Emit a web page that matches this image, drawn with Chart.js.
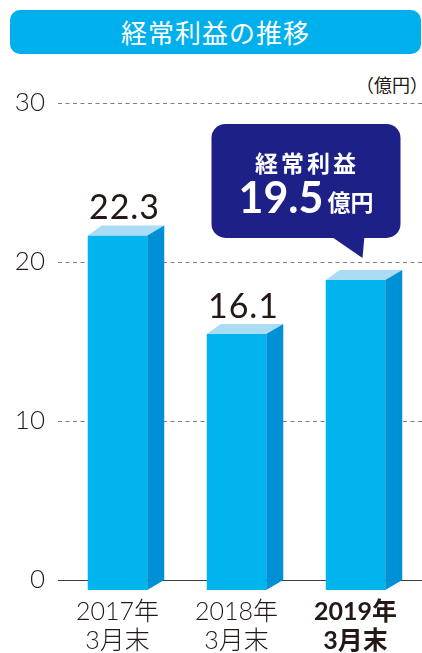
<!DOCTYPE html>
<html>
<head>
<meta charset="utf-8">
<script src="https://cdn.jsdelivr.net/npm/chart.js@4.4.1/dist/chart.umd.min.js"></script>
<style>
  html, body { margin: 0; padding: 0; background: #fff; }
  body { width: 422px; height: 653px; position: relative; overflow: hidden;
         font-family: 'Noto Sans CJK JP', sans-serif; color: #231815; }
  #title { position: absolute; left: 10px; top: 10px; width: 411px; height: 44px;
           background: #00b0ec; border-radius: 10px; color: #fff; font-size: 26px;
           line-height: 44px; text-align: center; letter-spacing: 1px; }
  #unit { position: absolute; right: -6px; top: 71px; font-size: 18px; }
  #wrap { position: absolute; left: 0; top: 0; width: 422px; height: 653px; }
</style>
</head>
<body>
<div id="title">経常利益の推移</div>
<div id="unit">（億円）</div>
<div id="wrap"><canvas id="profitChart"></canvas></div>
<script>
// values (億円)
const categories = [['2017年', '3月末'], ['2018年', '3月末'], ['2019年', '3月末']];
const profits = [22.3, 16.1, 19.5];
const valueLabels = ['22.3', '16.1', ''];
const yTicks = [0, 10, 20, 30];
const calloutIndex = 2;
const calloutTitle = '経常利益';
const calloutValue = '19.5';
const calloutUnit = '億円';

const FRONT = '#00b5ee', TOP = '#abdcf6', SIDE = '#0090d6', NAVY = '#1d2087', INK = '#231815';

// gridlines + fake 3D bars + callout, all positioned from the chart's scales
const bars3d = {
    id: 'bars3d',
    beforeDatasetsDraw(chart) {
        const { ctx, chartArea, scales: { y } } = chart;
        ctx.save();
        yTicks.forEach(v => {
            const py = Math.round(y.getPixelForValue(v)) + 0.5;
            ctx.beginPath();
            if (v === 0) {
                ctx.setLineDash([]);
                ctx.strokeStyle = '#3e3a39';
                ctx.lineWidth = 1.2;
            } else {
                ctx.setLineDash([4, 3.5]);
                ctx.strokeStyle = '#808080';
                ctx.lineWidth = 1;
            }
            ctx.moveTo(chartArea.left, py);
            ctx.lineTo(chart.width, py);
            ctx.stroke();
        });
        ctx.restore();
    },
    afterDatasetsDraw(chart) {
        const { ctx } = chart;
        const meta = chart.getDatasetMeta(0);
        ctx.save();
        meta.data.forEach((bar, i) => {
            const { x, y, base, width } = bar.getProps(['x', 'y', 'base', 'width'], true);
            const l = x - width / 2, r = x + width / 2, dy = 10;
            // front face
            ctx.fillStyle = FRONT;
            ctx.fillRect(l, y + dy, width, base - y);
            // top face
            ctx.fillStyle = TOP;
            ctx.beginPath();
            ctx.moveTo(l, y + dy);
            ctx.lineTo(r, y + dy);
            ctx.lineTo(r + 17, y);
            ctx.lineTo(l + 14, y);
            ctx.closePath();
            ctx.fill();
            // side face
            ctx.fillStyle = SIDE;
            ctx.beginPath();
            ctx.moveTo(r, y + dy);
            ctx.lineTo(r + 17, y);
            ctx.lineTo(r + 17, base);
            ctx.lineTo(r, base + dy);
            ctx.closePath();
            ctx.fill();
            // value label
            if (valueLabels[i]) {
                ctx.fillStyle = INK;
                ctx.font = '34px Lato, "Noto Sans", sans-serif';
                ctx.letterSpacing = '1px';
                ctx.textAlign = 'center';
                ctx.textBaseline = 'alphabetic';
                ctx.fillText(valueLabels[i], x + 7, y - 6);
                ctx.letterSpacing = '0px';
            }
        });

        // speech bubble over the latest bar
        const b = meta.data[calloutIndex].getProps(['x', 'y'], true);
        const bx = b.x - 144, by = b.y - 146, bw = 189, bh = 114;
        ctx.fillStyle = NAVY;
        ctx.beginPath();
        ctx.roundRect(bx, by, bw, bh, 14);
        ctx.fill();
        ctx.beginPath();
        ctx.moveTo(b.x - 25, by + bh - 2);
        ctx.lineTo(b.x + 9, by + bh - 2);
        ctx.lineTo(b.x + 7, b.y - 12);
        ctx.closePath();
        ctx.fill();

        const cx = bx + bw / 2;
        ctx.fillStyle = '#fff';
        ctx.textAlign = 'center';
        ctx.textBaseline = 'middle';
        ctx.font = 'bold 23px "Noto Sans CJK JP", sans-serif';
        ctx.letterSpacing = '3px';
        ctx.fillText(calloutTitle, cx + 1, b.y - 107);
        ctx.letterSpacing = '0px';

        ctx.textBaseline = 'alphabetic';
        ctx.textAlign = 'left';
        ctx.font = 'bold 43px Lato, "Noto Sans", sans-serif';
        const w1 = ctx.measureText(calloutValue).width;
        ctx.font = 'bold 23px "Noto Sans CJK JP", sans-serif';
        const w2 = ctx.measureText(calloutUnit).width;
        const start = cx - (w1 + 4 + w2) / 2;
        ctx.font = 'bold 43px Lato, "Noto Sans", sans-serif';
        ctx.fillText(calloutValue, start, b.y - 57);
        ctx.font = 'bold 23px "Noto Sans CJK JP", sans-serif';
        ctx.fillText(calloutUnit, start + w1 + 4, b.y - 59);
        ctx.restore();
    }
};

new Chart(document.getElementById('profitChart'), {
    type: 'bar',
    data: {
        labels: categories,
        datasets: [{
            data: profits,
            backgroundColor: 'rgba(0,0,0,0)',
            categoryPercentage: 1,
            barPercentage: 0.5
        }]
    },
    options: {
        responsive: true,
        maintainAspectRatio: false,
        animation: false,
        layout: { padding: { top: 103, right: 7, left: 0, bottom: 0 } },
        plugins: {
            legend: { display: false },
            tooltip: { enabled: false }
        },
        scales: {
            x: {
                grid: { display: false, drawTicks: false },
                border: { display: false },
                afterFit: s => { s.height = 73; },
                ticks: {
                    color: INK,
                    padding: 18,
                    font: c => ({
                        family: 'Lato, "Noto Sans CJK JP", sans-serif',
                        size: 25,
                        weight: c.index === 2 ? 'bold' : '300',
                        lineHeight: 1.15
                    })
                }
            },
            y: {
                min: 0,
                max: 30,
                grid: { display: false, drawTicks: false },
                border: { display: false },
                afterFit: s => { s.width = 58; },
                afterBuildTicks: s => { s.ticks = yTicks.map(v => ({ value: v })); },
                ticks: {
                    color: INK,
                    padding: 13,
                    font: { family: 'Lato, "Noto Sans", sans-serif', size: 26, weight: '300' }
                }
            }
        }
    },
    plugins: [bars3d]
});
</script>
</body>
</html>
